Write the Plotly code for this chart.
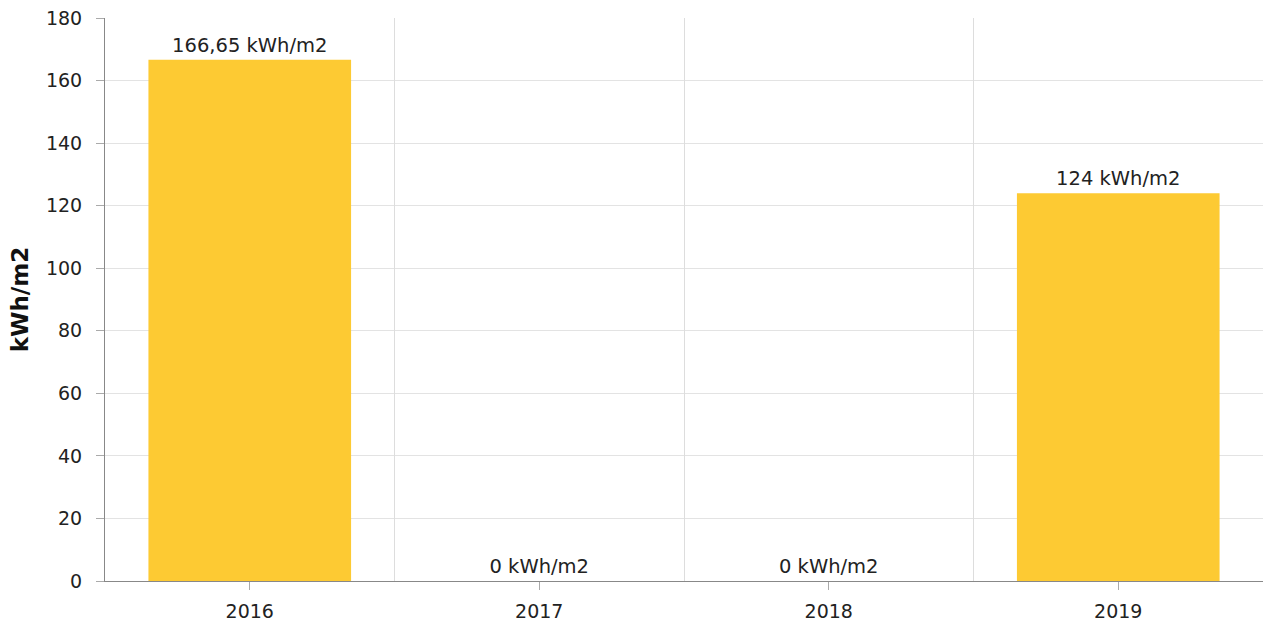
import plotly.graph_objects as go

years = ["2016", "2017", "2018", "2019"]
values = [166.65, 0, 0, 124]
unit = "kWh/m2"
y_ticks = [0, 20, 40, 60, 80, 100, 120, 140, 160, 180]

labels = [f"{v:g}".replace(".", ",") + " " + unit for v in values]

FONT = "DejaVu Sans, Verdana, sans-serif"

fig = go.Figure()
fig.add_trace(go.Bar(
    x=years, y=values, text=labels, textposition="outside",
    texttemplate="%{text}", cliponaxis=False,
    marker=dict(color="#FDCA33", line=dict(width=0)),
    textfont=dict(family=FONT, size=19.5, color="#222222"),
    width=0.7, hoverinfo="x+y",
))
# invisible trace to anchor the boundary-grid axis
fig.add_trace(go.Scatter(x=[-0.5, 3.5], y=[0, 0], xaxis="x2", mode="lines",
                         line=dict(width=0), showlegend=False, hoverinfo="skip"))

fig.update_layout(
    width=1267, height=624,
    margin=dict(l=105, r=4, t=18, b=43, autoexpand=False),
    plot_bgcolor="white", paper_bgcolor="white",
    showlegend=False,
    font=dict(family=FONT, size=19, color="#222222"),
    bargap=0.3,
    xaxis=dict(
        type="category", showgrid=False, showline=True, linecolor="#888888", linewidth=1,
        ticks="outside", ticklen=8, tickcolor="#aaaaaa", automargin=False,
        ticklabelstandoff=5,
        tickfont=dict(family=FONT, size=19, color="#222222"),
        zeroline=False,
    ),
    xaxis2=dict(
        overlaying="x", range=[-0.5, 3.5], tick0=0.5, dtick=1, showgrid=True,
        gridcolor="#dddddd", gridwidth=1, showticklabels=False, ticks="",
        showline=False, zeroline=False, layer="below traces", automargin=False,
    ),
    yaxis=dict(
        range=[0, 180], tickvals=y_ticks, showgrid=True, gridcolor="#e3e3e3",
        showline=True, linecolor="#888888", linewidth=1,
        ticks="outside", ticklen=8, tickcolor="#aaaaaa", ticklabelstandoff=10,
        tickfont=dict(family=FONT, size=19, color="#222222"),
        zeroline=False, automargin=False,
        title=dict(text="<b>kWh/m2</b>", font=dict(family=FONT, size=23, color="#111111"), standoff=10),
    ),
)

fig.write_html(
    "out.html",
    config={"displayModeBar": False},
    post_script="document.body.style.margin='0';document.body.style.overflow='hidden';",
)
